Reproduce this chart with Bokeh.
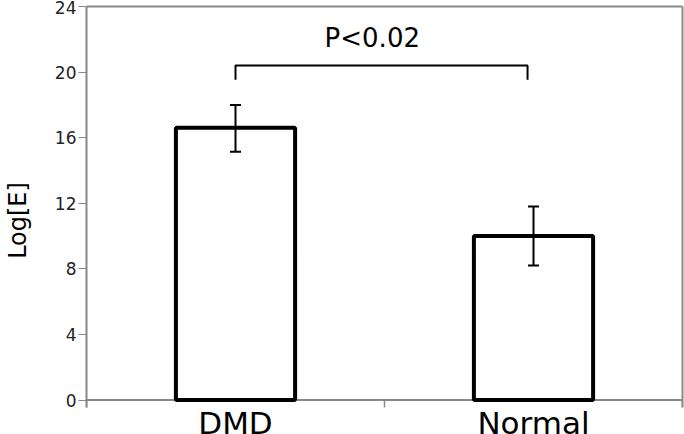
from bokeh.plotting import figure
from bokeh.models import (Range1d, FixedTicker, Whisker, TeeHead, ColumnDataSource,
                          LinearAxis, Span)
from bokeh.core.properties import value
from bokeh.embed import file_html
from bokeh.resources import INLINE

categories = ["DMD", "Normal"]
means = [16.6, 10.0]
err_low = [15.15, 8.2]
err_high = [18.0, 11.8]
y_ticks = [0, 4, 8, 12, 16, 20, 24]
p_text = "P<0.02"
bracket_level = 20.4
bracket_drop = 19.54
bracket_ends = [0.5, 1.48]
p_text_pos = (0.959, 22.08)
cat_label_y = -1.37
tick_len = 0.45
y_bottom = -2.1

xs = [i + 0.5 for i in range(len(categories))]
bounds_x = list(range(len(categories) + 1))
src = ColumnDataSource(dict(x=xs, top=means, lower=err_low, upper=err_high))

GRAY = "#888888"

p = figure(width=684, height=434, output_backend="svg", toolbar_location=None,
           x_range=Range1d(0, len(categories)), y_range=Range1d(y_bottom, 24),
           x_axis_location=None,
           min_border_left=86, min_border_right=2, min_border_top=6, min_border_bottom=0)
p.grid.visible = False
p.outline_line_color = None
p.background_fill_color = "white"
p.border_fill_color = "white"

# x axis line at zero and category separator ticks
p.add_layout(Span(location=0, dimension="width", line_color=GRAY, line_width=2,
                  level="underlay"))
p.segment(x0=bounds_x, y0=[0] * len(bounds_x), x1=bounds_x, y1=[-tick_len] * len(bounds_x),
          line_color=GRAY, line_width=1.5)

p.vbar(x="x", top="top", bottom=0, width=0.4, source=src,
       fill_color="white", line_color="black", line_width=4)

w = Whisker(base="x", lower="lower", upper="upper", source=src,
            line_color="black", line_width=2, level="overlay",
            upper_head=TeeHead(size=11, line_color="black", line_width=2),
            lower_head=TeeHead(size=11, line_color="black", line_width=2))
p.add_layout(w)

p.line([bracket_ends[0], bracket_ends[0], bracket_ends[1], bracket_ends[1]],
       [bracket_drop, bracket_level, bracket_level, bracket_drop],
       line_color="black", line_width=2)
p.text([p_text_pos[0]], [p_text_pos[1]], text=[p_text], text_align="center",
       text_baseline="alphabetic", text_font=value("DejaVu Sans"),
       text_font_size="26px", text_color="black")

# category names under the bars
p.text(xs, [cat_label_y] * len(xs), text=categories, text_align="center",
       text_baseline="alphabetic", text_font=value("DejaVu Sans"),
       text_font_size="31px", text_color="black")

# y axis
p.yaxis.ticker = FixedTicker(ticks=y_ticks, minor_ticks=[])
p.yaxis.bounds = (-tick_len, 24)
p.yaxis.axis_line_color = GRAY
p.yaxis.axis_line_width = 2
p.yaxis.major_tick_line_color = GRAY
p.yaxis.major_tick_out = 8
p.yaxis.major_tick_in = 0
p.yaxis.major_label_standoff = 2
p.yaxis.major_label_text_font = "DejaVu Sans"
p.yaxis.major_label_text_font_size = "17px"
p.yaxis.major_label_text_color = "#222222"
p.yaxis.axis_label = "Log[E]"
p.yaxis.axis_label_text_font = "DejaVu Sans"
p.yaxis.axis_label_text_font_size = "24px"
p.yaxis.axis_label_text_font_style = "normal"
p.yaxis.axis_label_text_color = "black"
p.yaxis.axis_label_standoff = 20

# plain border lines on the right and top
right_ax = LinearAxis(ticker=FixedTicker(ticks=[], minor_ticks=[]), bounds=(-tick_len, 24),
                      axis_line_color=GRAY, axis_line_width=2,
                      major_tick_out=0, major_tick_in=0, minor_tick_out=0, minor_tick_in=0,
                      major_label_standoff=0)
p.add_layout(right_ax, "right")
top_ax = LinearAxis(ticker=FixedTicker(ticks=[], minor_ticks=[]),
                    axis_line_color=GRAY, axis_line_width=2,
                    major_tick_out=0, major_tick_in=0, minor_tick_out=0, minor_tick_in=0,
                    major_label_standoff=0)
p.add_layout(top_ax, "above")

open("out.html", "w").write(file_html(p, INLINE))
